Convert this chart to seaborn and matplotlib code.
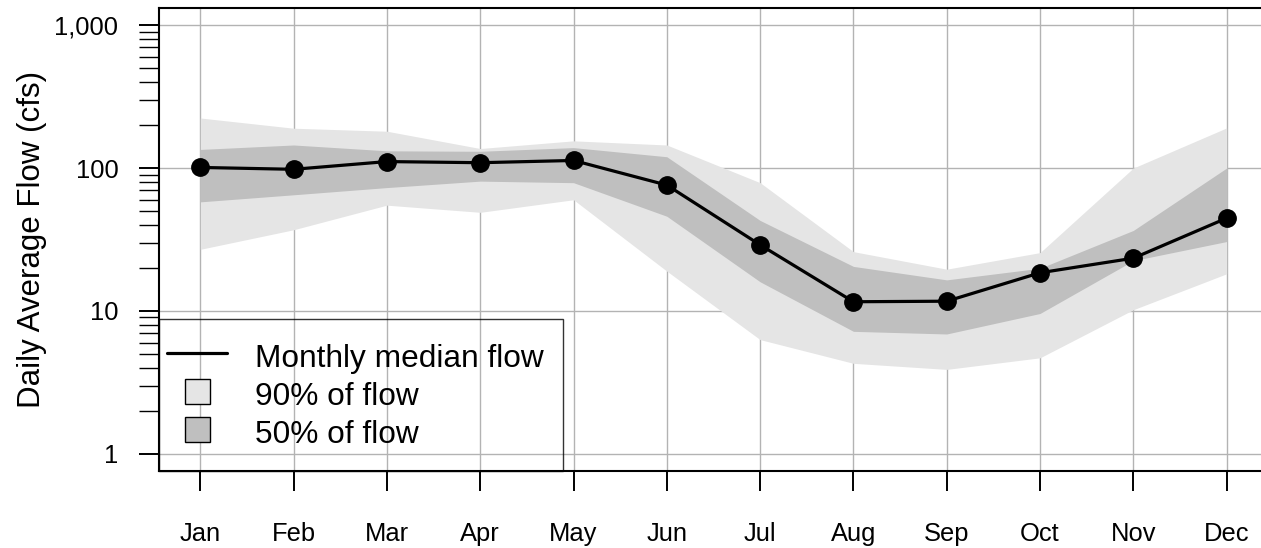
import numpy as np
import pandas as pd
import seaborn as sns
import matplotlib.pyplot as plt
from matplotlib.lines import Line2D
from matplotlib.legend_handler import HandlerLine2D
from matplotlib.ticker import FixedLocator, NullFormatter

# monthly flow statistics (cfs)
months = ['Jan', 'Feb', 'Mar', 'Apr', 'May', 'Jun',
          'Jul', 'Aug', 'Sep', 'Oct', 'Nov', 'Dec']
month_num = list(range(1, 13))
median_flow = [101, 98, 111, 109, 113, 76, 29, 11.6, 11.7, 18.5, 23.4, 44.6]
p25_flow = [58, 65, 73, 81, 79, 46, 16, 7.2, 6.9, 9.6, 22.5, 30.6]
p75_flow = [135, 145, 132, 131, 139, 120, 43, 20.5, 16.5, 19.9, 36.6, 100]
p05_flow = [27, 37, 55, 49, 60, 19, 6.3, 4.3, 3.9, 4.7, 10.2, 18.2]
p95_flow = [224, 190, 181, 137, 155, 145, 79, 26, 19.6, 25.6, 100, 191]

y_ticks = [1, 10, 100, 1000]
y_ticklabels = ['1', '10', '100', '1,000']

df = pd.DataFrame({'month': month_num, 'median': median_flow,
                   'p25': p25_flow, 'p75': p75_flow,
                   'p05': p05_flow, 'p95': p95_flow})

light = '#e5e5e5'
dark = '#bfbfbf'

sns.set_style('ticks')
plt.rcParams['font.family'] = ['Liberation Sans', 'DejaVu Sans']
plt.rcParams['text.color'] = 'black'
plt.rcParams['axes.labelcolor'] = 'black'
plt.rcParams['xtick.color'] = 'black'
plt.rcParams['ytick.color'] = 'black'

fig = plt.figure(figsize=(12.61, 5.48), dpi=100)
ax = fig.add_axes([0.1263, 0.1405, 0.879, 0.8449])
ax.set_yscale('log')

# bands first, median on top
ax.fill_between(df['month'], df['p05'], df['p95'], color=light, lw=0, zorder=1)
ax.fill_between(df['month'], df['p25'], df['p75'], color=dark, lw=0, zorder=2)
sns.lineplot(data=df, x='month', y='median', color='black', linewidth=2.3,
             marker='o', markersize=12.5, markeredgecolor='black',
             markeredgewidth=1, ax=ax, zorder=3)

ax.set_xlim(0.56, 12.44)
ax.set_ylim(10 ** -0.12, 10 ** 3.12)

ax.set_xticks(month_num)
ax.set_xticklabels(months)
ax.set_yticks(y_ticks)
ax.set_yticklabels(y_ticklabels)
minor = [m * 10 ** e for e in range(3) for m in range(2, 10)]
ax.yaxis.set_minor_locator(FixedLocator(minor))
ax.yaxis.set_minor_formatter(NullFormatter())

ax.set_axisbelow(True)
ax.grid(True, which='major', color='#b3b3b3', linewidth=1.0)
ax.grid(False, which='minor')

ax.tick_params(axis='both', which='both', direction='out', length=14.4,
               color='black', labelcolor='black', labelsize=18.4,
               bottom=True, left=True)
ax.tick_params(axis='both', which='major', width=1.4)
ax.tick_params(axis='y', which='minor', width=1.0)
ax.tick_params(axis='x', pad=22)
ax.tick_params(axis='y', pad=15)

for s in ax.spines.values():
    s.set_color('black')
    s.set_linewidth(1.5)

ax.set_xlabel('')
ax.set_ylabel('Daily Average Flow (cfs)', fontsize=22.5, labelpad=5, color='black')

# legend
handles = [Line2D([], [], color='black', lw=2.3),
           Line2D([], [], ls='none', marker='s', markersize=18,
                  markerfacecolor=light, markeredgecolor='black', markeredgewidth=1),
           Line2D([], [], ls='none', marker='s', markersize=18,
                  markerfacecolor=dark, markeredgecolor='black', markeredgewidth=1)]
labels = ['Monthly median flow', '90% of flow', '50% of flow']
leg = ax.legend(handles, labels, loc='lower left', bbox_to_anchor=(0, 0),
                borderaxespad=0, fontsize=22.8, frameon=True, fancybox=False,
                edgecolor='black', borderpad=0.6, handlelength=1.53,
                handletextpad=0.89, handleheight=1.47, labelspacing=0.0,
                labelcolor='black',
                handler_map={Line2D: HandlerLine2D(xpad=-0.366)})
leg.get_frame().set_facecolor('none')
leg.get_frame().set_linewidth(1.0)
leg.set_zorder(5)

fig.savefig('out.png', dpi=100)
